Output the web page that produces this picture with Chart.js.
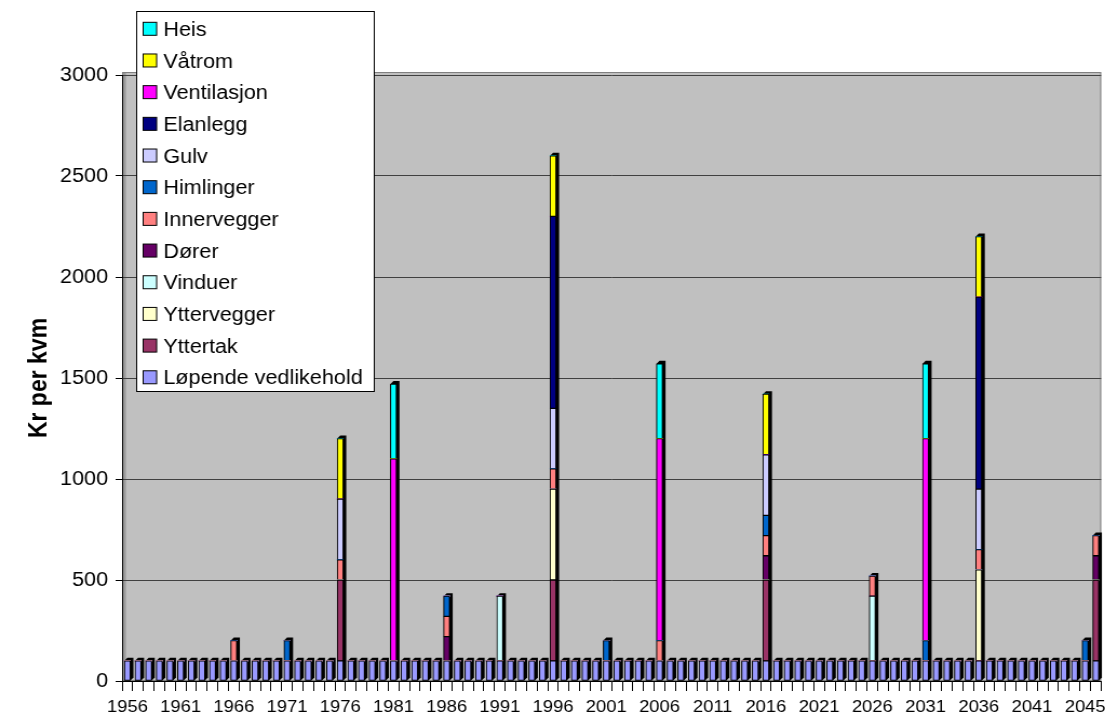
<!DOCTYPE html>
<html>
<head>
<meta charset="utf-8">
<script src="https://cdn.jsdelivr.net/npm/chart.js@4/dist/chart.umd.min.js"></script>
<style>
  html, body { margin: 0; padding: 0; background: #fff; overflow: hidden; }
  /* the drawing is laid out 1023px wide and widened to 1105px */
  #wrap { width: 1023px; height: 715px; transform: scaleX(1.0802); transform-origin: 0 0; }
  canvas { display: block; }
</style>
</head>
<body>
<div id="wrap"><canvas id="c" width="1023" height="715"></canvas></div>
<script>
// Years on the category axis
const years = [
  1956, 1957, 1958, 1959, 1960, 1961, 1962, 1963, 1964, 1965,
  1966, 1967, 1968, 1969, 1970, 1971, 1972, 1973, 1974, 1975,
  1976, 1977, 1978, 1979, 1980, 1981, 1982, 1983, 1984, 1985,
  1986, 1987, 1988, 1989, 1990, 1991, 1992, 1993, 1994, 1995,
  1996, 1997, 1998, 1999, 2000, 2001, 2002, 2003, 2004, 2005,
  2006, 2007, 2008, 2009, 2010, 2011, 2012, 2013, 2014, 2015,
  2016, 2017, 2018, 2019, 2020, 2021, 2022, 2023, 2024, 2025,
  2026, 2027, 2028, 2029, 2030, 2031, 2032, 2033, 2034, 2035,
  2036, 2037, 2038, 2039, 2040, 2041, 2042, 2043, 2044, 2045,
  2046, 2047
];

// Labels printed under every fifth year
const tickLabels = ['1956', '1961', '1966', '1971', '1976', '1981', '1986', '1991', '1996',
  '2001', '2006', '2011', '2016', '2021', '2026', '2031', '2036', '2041', '2045'];

// Kr per kvm, one value per year
const lopendeVedlikehold = [
  100, 100, 100, 100, 100, 100, 100, 100, 100, 100,
  100, 100, 100, 100, 100, 100, 100, 100, 100, 100,
  100, 100, 100, 100, 100, 100, 100, 100, 100, 100,
  100, 100, 100, 100, 100, 100, 100, 100, 100, 100,
  100, 100, 100, 100, 100, 100, 100, 100, 100, 100,
  100, 100, 100, 100, 100, 100, 100, 100, 100, 100,
  100, 100, 100, 100, 100, 100, 100, 100, 100, 100,
  100, 100, 100, 100, 100, 100, 100, 100, 100, 100,
  100, 100, 100, 100, 100, 100, 100, 100, 100, 100,
  100, 100
];
const yttertak = [
  0, 0, 0, 0, 0, 0, 0, 0, 0, 0,
  0, 0, 0, 0, 0, 0, 0, 0, 0, 0,
  400, 0, 0, 0, 0, 0, 0, 0, 0, 0,
  0, 0, 0, 0, 0, 0, 0, 0, 0, 0,
  400, 0, 0, 0, 0, 0, 0, 0, 0, 0,
  0, 0, 0, 0, 0, 0, 0, 0, 0, 0,
  400, 0, 0, 0, 0, 0, 0, 0, 0, 0,
  0, 0, 0, 0, 0, 0, 0, 0, 0, 0,
  0, 0, 0, 0, 0, 0, 0, 0, 0, 0,
  0, 400
];
const yttervegger = [
  0, 0, 0, 0, 0, 0, 0, 0, 0, 0,
  0, 0, 0, 0, 0, 0, 0, 0, 0, 0,
  0, 0, 0, 0, 0, 0, 0, 0, 0, 0,
  0, 0, 0, 0, 0, 0, 0, 0, 0, 0,
  450, 0, 0, 0, 0, 0, 0, 0, 0, 0,
  0, 0, 0, 0, 0, 0, 0, 0, 0, 0,
  0, 0, 0, 0, 0, 0, 0, 0, 0, 0,
  0, 0, 0, 0, 0, 0, 0, 0, 0, 0,
  450, 0, 0, 0, 0, 0, 0, 0, 0, 0,
  0, 0
];
const vinduer = [
  0, 0, 0, 0, 0, 0, 0, 0, 0, 0,
  0, 0, 0, 0, 0, 0, 0, 0, 0, 0,
  0, 0, 0, 0, 0, 0, 0, 0, 0, 0,
  0, 0, 0, 0, 0, 320, 0, 0, 0, 0,
  0, 0, 0, 0, 0, 0, 0, 0, 0, 0,
  0, 0, 0, 0, 0, 0, 0, 0, 0, 0,
  0, 0, 0, 0, 0, 0, 0, 0, 0, 0,
  320, 0, 0, 0, 0, 0, 0, 0, 0, 0,
  0, 0, 0, 0, 0, 0, 0, 0, 0, 0,
  0, 0
];
const dorer = [
  0, 0, 0, 0, 0, 0, 0, 0, 0, 0,
  0, 0, 0, 0, 0, 0, 0, 0, 0, 0,
  0, 0, 0, 0, 0, 0, 0, 0, 0, 0,
  120, 0, 0, 0, 0, 0, 0, 0, 0, 0,
  0, 0, 0, 0, 0, 0, 0, 0, 0, 0,
  0, 0, 0, 0, 0, 0, 0, 0, 0, 0,
  120, 0, 0, 0, 0, 0, 0, 0, 0, 0,
  0, 0, 0, 0, 0, 0, 0, 0, 0, 0,
  0, 0, 0, 0, 0, 0, 0, 0, 0, 0,
  0, 120
];
const innervegger = [
  0, 0, 0, 0, 0, 0, 0, 0, 0, 0,
  100, 0, 0, 0, 0, 0, 0, 0, 0, 0,
  100, 0, 0, 0, 0, 0, 0, 0, 0, 0,
  100, 0, 0, 0, 0, 0, 0, 0, 0, 0,
  100, 0, 0, 0, 0, 0, 0, 0, 0, 0,
  100, 0, 0, 0, 0, 0, 0, 0, 0, 0,
  100, 0, 0, 0, 0, 0, 0, 0, 0, 0,
  100, 0, 0, 0, 0, 0, 0, 0, 0, 0,
  100, 0, 0, 0, 0, 0, 0, 0, 0, 0,
  0, 100
];
const himlinger = [
  0, 0, 0, 0, 0, 0, 0, 0, 0, 0,
  0, 0, 0, 0, 0, 100, 0, 0, 0, 0,
  0, 0, 0, 0, 0, 0, 0, 0, 0, 0,
  100, 0, 0, 0, 0, 0, 0, 0, 0, 0,
  0, 0, 0, 0, 0, 100, 0, 0, 0, 0,
  0, 0, 0, 0, 0, 0, 0, 0, 0, 0,
  100, 0, 0, 0, 0, 0, 0, 0, 0, 0,
  0, 0, 0, 0, 0, 100, 0, 0, 0, 0,
  0, 0, 0, 0, 0, 0, 0, 0, 0, 0,
  100, 0
];
const gulv = [
  0, 0, 0, 0, 0, 0, 0, 0, 0, 0,
  0, 0, 0, 0, 0, 0, 0, 0, 0, 0,
  300, 0, 0, 0, 0, 0, 0, 0, 0, 0,
  0, 0, 0, 0, 0, 0, 0, 0, 0, 0,
  300, 0, 0, 0, 0, 0, 0, 0, 0, 0,
  0, 0, 0, 0, 0, 0, 0, 0, 0, 0,
  300, 0, 0, 0, 0, 0, 0, 0, 0, 0,
  0, 0, 0, 0, 0, 0, 0, 0, 0, 0,
  300, 0, 0, 0, 0, 0, 0, 0, 0, 0,
  0, 0
];
const elanlegg = [
  0, 0, 0, 0, 0, 0, 0, 0, 0, 0,
  0, 0, 0, 0, 0, 0, 0, 0, 0, 0,
  0, 0, 0, 0, 0, 0, 0, 0, 0, 0,
  0, 0, 0, 0, 0, 0, 0, 0, 0, 0,
  950, 0, 0, 0, 0, 0, 0, 0, 0, 0,
  0, 0, 0, 0, 0, 0, 0, 0, 0, 0,
  0, 0, 0, 0, 0, 0, 0, 0, 0, 0,
  0, 0, 0, 0, 0, 0, 0, 0, 0, 0,
  950, 0, 0, 0, 0, 0, 0, 0, 0, 0,
  0, 0
];
const ventilasjon = [
  0, 0, 0, 0, 0, 0, 0, 0, 0, 0,
  0, 0, 0, 0, 0, 0, 0, 0, 0, 0,
  0, 0, 0, 0, 0, 1000, 0, 0, 0, 0,
  0, 0, 0, 0, 0, 0, 0, 0, 0, 0,
  0, 0, 0, 0, 0, 0, 0, 0, 0, 0,
  1000, 0, 0, 0, 0, 0, 0, 0, 0, 0,
  0, 0, 0, 0, 0, 0, 0, 0, 0, 0,
  0, 0, 0, 0, 0, 1000, 0, 0, 0, 0,
  0, 0, 0, 0, 0, 0, 0, 0, 0, 0,
  0, 0
];
const vatrom = [
  0, 0, 0, 0, 0, 0, 0, 0, 0, 0,
  0, 0, 0, 0, 0, 0, 0, 0, 0, 0,
  300, 0, 0, 0, 0, 0, 0, 0, 0, 0,
  0, 0, 0, 0, 0, 0, 0, 0, 0, 0,
  300, 0, 0, 0, 0, 0, 0, 0, 0, 0,
  0, 0, 0, 0, 0, 0, 0, 0, 0, 0,
  300, 0, 0, 0, 0, 0, 0, 0, 0, 0,
  0, 0, 0, 0, 0, 0, 0, 0, 0, 0,
  300, 0, 0, 0, 0, 0, 0, 0, 0, 0,
  0, 0
];
const heis = [
  0, 0, 0, 0, 0, 0, 0, 0, 0, 0,
  0, 0, 0, 0, 0, 0, 0, 0, 0, 0,
  0, 0, 0, 0, 0, 370, 0, 0, 0, 0,
  0, 0, 0, 0, 0, 0, 0, 0, 0, 0,
  0, 0, 0, 0, 0, 0, 0, 0, 0, 0,
  370, 0, 0, 0, 0, 0, 0, 0, 0, 0,
  0, 0, 0, 0, 0, 0, 0, 0, 0, 0,
  0, 0, 0, 0, 0, 370, 0, 0, 0, 0,
  0, 0, 0, 0, 0, 0, 0, 0, 0, 0,
  0, 0
];

const seriesNames = ['Løpende vedlikehold', 'Yttertak', 'Yttervegger', 'Vinduer', 'Dører',
  'Innervegger', 'Himlinger', 'Gulv', 'Elanlegg', 'Ventilasjon', 'Våtrom', 'Heis'];
const seriesValues = [lopendeVedlikehold, yttertak, yttervegger, vinduer, dorer,
  innervegger, himlinger, gulv, elanlegg, ventilasjon, vatrom, heis];
const seriesColors = ['#9999FF', '#993366', '#FFFFCC', '#CCFFFF', '#660066',
  '#FF8080', '#0066CC', '#CCCCFF', '#000080', '#FF00FF', '#FFFF00', '#00FFFF'];

const FONT = '"Liberation Sans", Arial, Helvetica, sans-serif';
const DEPTH_X = 2.8;   // extrusion of the columns
const DEPTH_Y = 3;

// gray back wall behind the plot
const wallPlugin = {
  id: 'wall',
  beforeDraw(chart) {
    const { ctx, chartArea: a } = chart;
    ctx.save();
    ctx.fillStyle = '#C0C0C0';
    ctx.fillRect(a.left, a.top - 3, a.right - a.left, a.bottom - a.top + 3);
    ctx.fillStyle = '#9A9A9A';
    ctx.fillRect(a.left, a.top - 3, 3.5, a.bottom - a.top + 3);
    ctx.strokeStyle = '#808080';
    ctx.lineWidth = 1;
    ctx.strokeRect(a.left + 0.5, a.top - 2.5, a.right - a.left - 1, a.bottom - a.top + 2);
    ctx.restore();
  }
};

// dark side and top faces of every column stack
const depthPlugin = {
  id: 'depth',
  beforeDatasetsDraw(chart) {
    const ctx = chart.ctx;
    const metas = chart.data.datasets.map((d, k) => chart.getDatasetMeta(k));
    ctx.save();
    ctx.fillStyle = '#000';
    years.forEach((y, i) => {
      let top = Infinity, bottom = -Infinity, left = 0, right = 0;
      metas.forEach((m, k) => {
        const v = chart.data.datasets[k].data[i];
        const el = m.data[i];
        if (!v || !el) return;
        top = Math.min(top, el.y);
        bottom = Math.max(bottom, el.base);
        left = el.x - el.width / 2;
        right = el.x + el.width / 2;
      });
      if (top === Infinity) return;
      ctx.beginPath();
      ctx.moveTo(left, top);
      ctx.lineTo(left + DEPTH_X, top - DEPTH_Y);
      ctx.lineTo(right + DEPTH_X, top - DEPTH_Y);
      ctx.lineTo(right + DEPTH_X, bottom - DEPTH_Y);
      ctx.lineTo(right, bottom);
      ctx.lineTo(left, bottom);
      ctx.closePath();
      ctx.fill();
    });
    ctx.restore();
  }
};

// legend box drawn over the upper left of the plot
const legendPlugin = {
  id: 'boxLegend',
  afterDraw(chart) {
    const ctx = chart.ctx;
    const box = { x: 126, y: 11, w: 221, h: 381 };
    ctx.save();
    ctx.fillStyle = '#fff';
    ctx.fillRect(box.x, box.y, box.w, box.h);
    ctx.strokeStyle = '#000';
    ctx.lineWidth = 1;
    ctx.strokeRect(box.x + 0.5, box.y + 0.5, box.w - 1, box.h - 1);
    ctx.font = '20px ' + FONT;
    ctx.textBaseline = 'alphabetic';
    const items = chart.data.datasets.slice().reverse();
    items.forEach((ds, k) => {
      const cy = 28.8 + k * 31.68;
      ctx.fillStyle = ds.backgroundColor;
      ctx.fillRect(132.5, cy - 6.5, 12.5, 13);
      ctx.strokeStyle = '#000';
      ctx.strokeRect(132.5, cy - 6.5, 12.5, 13);
      ctx.fillStyle = '#000';
      ctx.fillText(ds.label, 151.2, cy + 7.2);
    });
    ctx.restore();
  }
};

const datasets = seriesNames.map((name, k) => ({
  label: name,
  data: seriesValues[k],
  backgroundColor: seriesColors[k],
  borderColor: '#000',
  borderWidth: c => (c.raw ? 1 : 0),
  borderSkipped: false,
  barThickness: 5.6
}));

new Chart(document.getElementById('c'), {
  type: 'bar',
  data: { labels: years, datasets },
  plugins: [wallPlugin, depthPlugin, legendPlugin],
  options: {
    responsive: false,
    animation: false,
    devicePixelRatio: 1,
    layout: { padding: { top: 75, right: 3.6, left: 0, bottom: 0 } },
    plugins: { legend: { display: false }, tooltip: { enabled: false } },
    scales: {
      x: {
        stacked: true,
        offset: true,
        grid: { display: true, drawOnChartArea: false, drawTicks: true, tickLength: 10, tickColor: '#000', offset: true },
        border: { display: true, color: '#000', width: 1 },
        ticks: {
          autoSkip: false, maxRotation: 0, minRotation: 0, padding: 6, color: '#000',
          font: { family: FONT, size: 17 },
          callback: (v, i) => (i % 5 === 0 ? tickLabels[i / 5] : '')
        },
        afterFit: s => { s.height = 34; }
      },
      y: {
        stacked: true,
        min: 0,
        max: 3000,
        grid: { color: '#404040', lineWidth: 1, tickLength: 6, tickColor: '#000' },
        border: { display: true, color: '#000', width: 1 },
        ticks: {
          stepSize: 500, padding: 7, color: '#000',
          font: { family: FONT, size: 20 },
          callback: v => String(v)
        },
        title: {
          display: true, text: 'Kr per kvm', color: '#000',
          font: { family: FONT, size: 23, weight: 'bold' },
          padding: { top: 23, bottom: 0 }
        },
        afterFit: s => { s.width = 113; }
      }
    }
  }
});
</script>
</body>
</html>
